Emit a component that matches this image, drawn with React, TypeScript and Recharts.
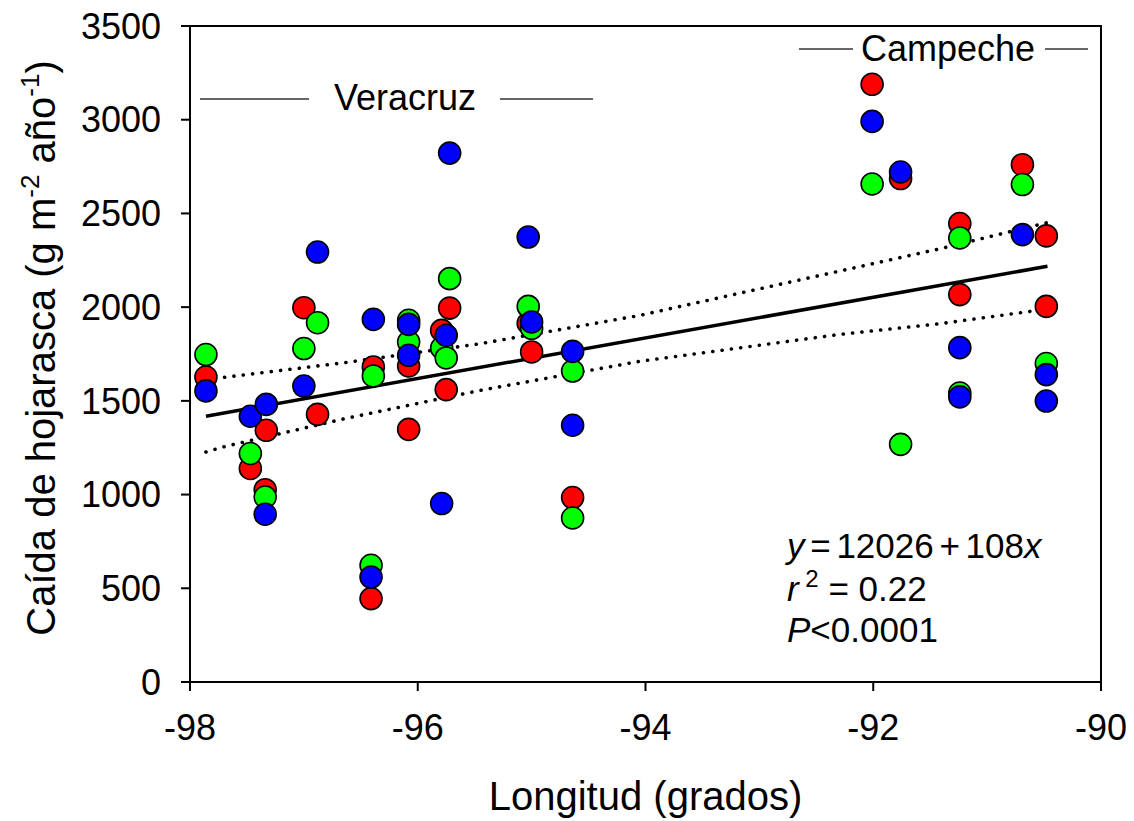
import { ScatterChart, Scatter, XAxis, YAxis, ReferenceArea, Label } from 'recharts';

// longitude (degrees) and litterfall (g m-2 yr-1), one pair of arrays per colour
const redLon = [-97.86, -97.47, -97.33, -97.34, -97.0, -96.88, -96.39, -96.41, -96.08, -96.08, -95.72, -95.79, -95.75, -95.03, -95.0, -94.64, -92.01, -91.76, -91.24, -91.24, -90.69, -90.48, -90.48];
const redVal = [1627, 1139, 1343, 1026, 1997, 1428, 1681, 445, 1686, 1348, 1995, 1876, 1560, 1914, 1761, 984, 3189, 2686, 2446, 2067, 2760, 2380, 2004];

const greenLon = [-97.86, -97.47, -97.34, -97.0, -96.88, -96.39, -96.41, -96.08, -96.08, -95.72, -95.79, -95.75, -95.03, -95.0, -94.64, -94.64, -92.01, -91.76, -91.24, -91.24, -90.69, -90.48];
const greenVal = [1747, 1219, 987, 1779, 1917, 1633, 623, 1930, 1814, 2152, 1782, 1729, 2004, 1887, 1659, 875, 2657, 1268, 2369, 1542, 2654, 1699];

const blueLon = [-97.86, -97.47, -97.33, -97.34, -97.0, -96.88, -96.39, -96.41, -96.08, -96.08, -95.72, -95.75, -95.79, -95.03, -95.0, -94.64, -94.64, -92.01, -91.76, -91.24, -91.24, -90.69, -90.48, -90.48];
const blueVal = [1553, 1418, 1481, 895, 1579, 2294, 1935, 560, 1908, 1743, 2822, 1850, 952, 2374, 1921, 1764, 1370, 2991, 2721, 1784, 1521, 2387, 1640, 1499];

// regression line and its confidence band
const fitLon = [-97.86, -90.47];
const fitVal = [1418, 2218];
const bandLon = [-97.86, -97.71, -96.64, -95.45, -94.05, -92.29, -91.41, -90.47];
const upperVal = [1612, 1625, 1704, 1805, 1956, 2193, 2312, 2451];
const lowerVal = [1227, 1254, 1405, 1556, 1711, 1855, 1912, 1990];

const xTicks = [-98, -96, -94, -92, -90];
const yTicks = [0, 500, 1000, 1500, 2000, 2500, 3000, 3500];

const FONT = '"Liberation Sans", Arial, sans-serif';

const toPoints = (xs: number[], ys: number[]) => xs.map((x, i) => ({ x, y: ys[i] }));

const dot = (fill: string) => (p: any) => (
  <circle cx={p.cx} cy={p.cy} r={11} fill={fill} stroke="#000" strokeWidth={1.6} />
);

const noShape = () => <g />;

const XTitle = ({ viewBox }: any) => (
  <text x={viewBox.x + viewBox.width / 2} y={viewBox.y + 128} textAnchor="middle" fontSize={40} fontFamily={FONT} fill="#000">
    Longitud (grados)
  </text>
);

const YTitle = () => (
  <text transform="translate(55,348) rotate(-90)" textAnchor="middle" fontSize={40} fontFamily={FONT} fill="#000">
    Caída de hojarasca (g m<tspan fontSize={26} dy={-16}>-2</tspan>
    <tspan dy={16}> año</tspan><tspan fontSize={26} dy={-16}>-1</tspan><tspan dy={16}>)</tspan>
  </text>
);

export default function App() {
  const tickStyle = { fontSize: 36, fontFamily: FONT, fill: '#000' };
  return (
    <div style={{ position: 'absolute', left: 0, top: 0, width: 1134, height: 821, background: '#fff' }}>
      <ScatterChart width={1134} height={821} margin={{ top: 26, right: 33, bottom: 0, left: 0 }}>
        <XAxis
          type="number"
          dataKey="x"
          domain={[-98, -90]}
          ticks={xTicks}
          height={139}
          tickSize={9}
          tickMargin={23}
          tick={tickStyle}
          axisLine={{ stroke: '#000', strokeWidth: 2 }}
          tickLine={{ stroke: '#000', strokeWidth: 2 }}
          allowDataOverflow
        >
          <Label content={<XTitle />} />
        </XAxis>
        <YAxis
          type="number"
          dataKey="y"
          domain={[0, 3500]}
          ticks={yTicks}
          width={190}
          tickSize={9}
          tickMargin={20}
          tick={tickStyle}
          axisLine={{ stroke: '#000', strokeWidth: 2 }}
          tickLine={{ stroke: '#000', strokeWidth: 2 }}
          allowDataOverflow
        >
          <Label content={<YTitle />} />
        </YAxis>
        <ReferenceArea x1={-98} x2={-90} y1={0} y2={3500} fill="none" stroke="#000" strokeWidth={2} fillOpacity={0} />
        <Scatter data={toPoints(bandLon, upperVal)} line={{ stroke: '#000', strokeWidth: 3.6, strokeDasharray: '0.1 9.3', strokeLinecap: 'round' }} shape={noShape} isAnimationActive={false} />
        <Scatter data={toPoints(bandLon, lowerVal)} line={{ stroke: '#000', strokeWidth: 3.6, strokeDasharray: '0.1 9.3', strokeLinecap: 'round' }} shape={noShape} isAnimationActive={false} />
        <Scatter data={toPoints(fitLon, fitVal)} line={{ stroke: '#000', strokeWidth: 3.5 }} shape={noShape} isAnimationActive={false} />
        <Scatter data={toPoints(redLon, redVal)} shape={dot('#ff0000')} isAnimationActive={false} />
        <Scatter data={toPoints(greenLon, greenVal)} shape={dot('#00ff00')} isAnimationActive={false} />
        <Scatter data={toPoints(blueLon, blueVal)} shape={dot('#0000ff')} isAnimationActive={false} />
      </ScatterChart>
      <svg width={1134} height={821} style={{ position: 'absolute', left: 0, top: 0, pointerEvents: 'none' }}>
        <g fontFamily={FONT} fontSize={36} fill="#000">
          <line x1={200} y1={99} x2={309} y2={99} stroke="#333" strokeWidth={1.5} />
          <text x={334} y={110}>Veracruz</text>
          <line x1={500} y1={99} x2={593} y2={99} stroke="#333" strokeWidth={1.5} />
          <line x1={799} y1={49} x2={853} y2={49} stroke="#333" strokeWidth={1.5} />
          <text x={861} y={61}>Campeche</text>
          <line x1={1045} y1={49} x2={1088} y2={49} stroke="#333" strokeWidth={1.5} />
        </g>
        <g fontFamily={FONT} fontSize={35} fill="#000">
          <text x={787} y={558} wordSpacing={-4}><tspan fontStyle="italic">y</tspan> = 12026 + 108<tspan fontStyle="italic">x</tspan></text>
          <text x={787} y={601}><tspan fontStyle="italic">r</tspan><tspan fontSize={24} dy={-14}> 2</tspan><tspan dy={14}> = 0.22</tspan></text>
          <text x={787} y={642}><tspan fontStyle="italic">P</tspan>&lt;0.0001</text>
        </g>
      </svg>
    </div>
  );
}
